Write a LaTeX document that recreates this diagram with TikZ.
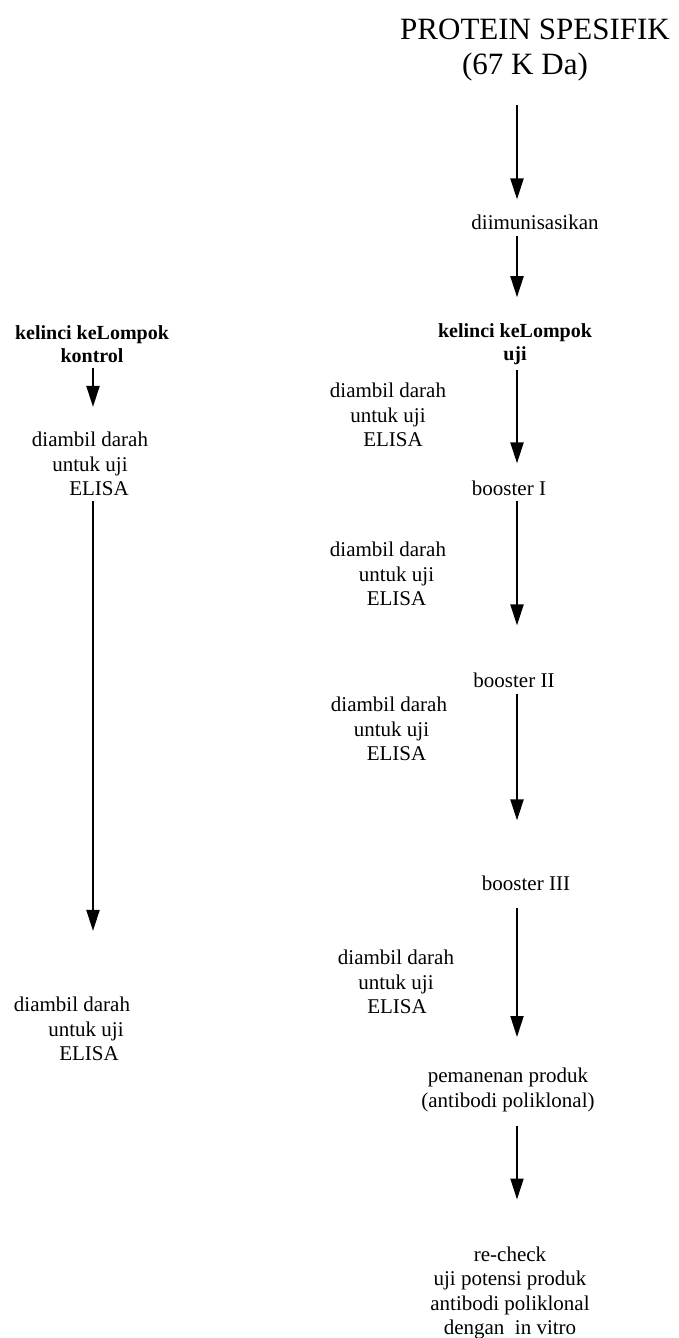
\documentclass[tikz,border=0pt]{standalone}
\usepackage{fontspec}
\setmainfont{Liberation Serif}
\usetikzlibrary{arrows.meta}
\begin{document}
\begin{tikzpicture}[x=1pt,y=-1pt,
  txt/.style={font=\fontsize{21}{24.5}\selectfont, align=center, inner sep=0pt},
  bld/.style={font=\fontsize{20}{23}\selectfont\bfseries, align=center, inner sep=0pt},
  ttl/.style={font=\fontsize{31}{35}\selectfont, align=center, inner sep=0pt},
  arr/.style={line width=2pt, -{Triangle[length=21pt,width=13pt]}}]
\useasboundingbox (0,0) rectangle (678,1338);
% axes of the two columns
\coordinate (axR) at (517,0);
\coordinate (axL) at (93,0);
% right column
\node[ttl] (title) at (535,50) {PROTEIN SPESIFIK\\(67 K Da)\hspace*{20pt}};
\node[txt] (dimm) at (535,222) {diimunisasikan};
\node[bld] (kuR) at (515,344) {kelinci keLompok\\uji};
\node[txt] (dR1) at (388,415) {diambil darah\\untuk uji\hspace*{16pt}\\\hspace*{10pt}ELISA};
\node[txt] (b1) at (509,488) {booster I};
\node[txt] (dR2) at (388,574) {diambil darah\\\hspace*{17pt}untuk uji\\\hspace*{17pt}ELISA};
\node[txt] (b2) at (514,680) {booster II};
\node[txt] (dR3) at (389,729) {diambil darah\\\hspace*{5pt}untuk uji\\\hspace*{15pt}ELISA};
\node[txt] (b3) at (526,883) {booster III};
\node[txt] (dR4) at (396,982) {diambil darah\\untuk uji\hspace*{10pt}\\\hspace*{2pt}ELISA};
\node[txt] (panen) at (508,1090) {pemanenan produk\\(antibodi poliklonal)};
\node[txt] (recheck) at (510,1293) {re-check\\uji potensi produk\\antibodi poliklonal\\dengan\ \ in vitro};
% left column
\node[bld] (kuL) at (92,344) {kelinci keLompok\\kontrol};
\node[txt] (dL1) at (90,464) {diambil darah\\untuk uji\\\hspace*{18pt}ELISA};
\node[txt] (dL2) at (72,1029) {diambil darah\\\hspace*{28pt}untuk uji\\\hspace*{34pt}ELISA};
% connectors, right
\draw[arr] ([yshift=-24pt]axR |- title.south) -- ([yshift=15pt]axR |- dimm.north);
\draw[arr] ([yshift=-6pt]axR |- dimm.south) -- ([yshift=26pt]axR |- kuR.north);
\draw[arr] ([yshift=-5pt]axR |- kuR.south) -- ([yshift=17pt]axR |- b1.north);
\draw[arr] ([yshift=-5pt]axR |- b1.south) -- ([yshift=47pt]axR |- b2.north);
\draw[arr] ([yshift=-6pt]axR |- b2.south) -- ([yshift=55pt]axR |- b3.north);
\draw[arr] ([yshift=-17pt]axR |- b3.south) -- ([yshift=31pt]axR |- panen.north);
\draw[arr] ([yshift=-14pt]axR |- panen.south) -- ([yshift=47pt]axR |- recheck.north);
% connectors, left
\draw[arr] ([yshift=-5pt]axL |- kuL.south) -- ([yshift=25pt]axL |- dL1.north);
\draw[arr] ([yshift=-5pt]axL |- dL1.south) -- ([yshift=66pt]axL |- dL2.north);
\end{tikzpicture}
\end{document}
